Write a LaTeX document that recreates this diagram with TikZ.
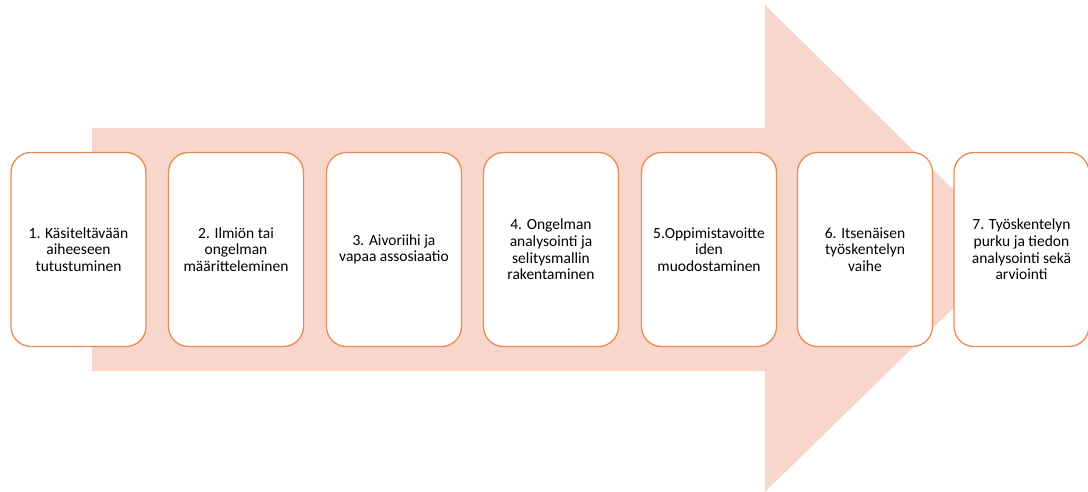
\documentclass[tikz,border=0pt]{standalone}
\usepackage{fontspec}
\setmainfont{Carlito}
\definecolor{arrowfill}{RGB}{248,214,203}
\definecolor{stepline}{RGB}{233,139,84}
\begin{document}
\begin{tikzpicture}[x=1pt,y=-1pt,
  stepbox/.style={draw=stepline, line width=1.3pt, fill=white, rounded corners=20pt,
    minimum width=135pt, minimum height=194pt, align=center,
    font=\fontsize{15.5}{16.7}\selectfont, inner sep=2pt}]
\useasboundingbox (0,0) rectangle (1088,492);
% big background arrow
\fill[arrowfill] (92,128) -- (765,128) -- (765,5) -- (1014,249) -- (765,492)
  -- (765,371) -- (92,371) -- cycle;
% process steps
\node[stepbox] (s1) at (78.5,249.5) {1. Käsiteltävään\\aiheeseen\\tutustuminen};
\node[stepbox] (s2) at (236,249.5) {2. Ilmiön tai\\ongelman\\määritteleminen};
\node[stepbox] (s3) at (394,249.5) {3. Aivoriihi ja\\vapaa assosiaatio};
\node[stepbox] (s4) at (551,249.5) {4. Ongelman\\analysointi ja\\selitysmallin\\rakentaminen};
\node[stepbox] (s5) at (709,249.5) {5.Oppimistavoitte\\iden\\muodostaminen};
\node[stepbox] (s6) at (865,249.5) {6. Itsenäisen\\työskentelyn\\vaihe};
\node[stepbox] (s7) at (1021.5,249.5) {7. Työskentelyn\\purku ja tiedon\\analysointi sekä\\arviointi};
\end{tikzpicture}
\end{document}
